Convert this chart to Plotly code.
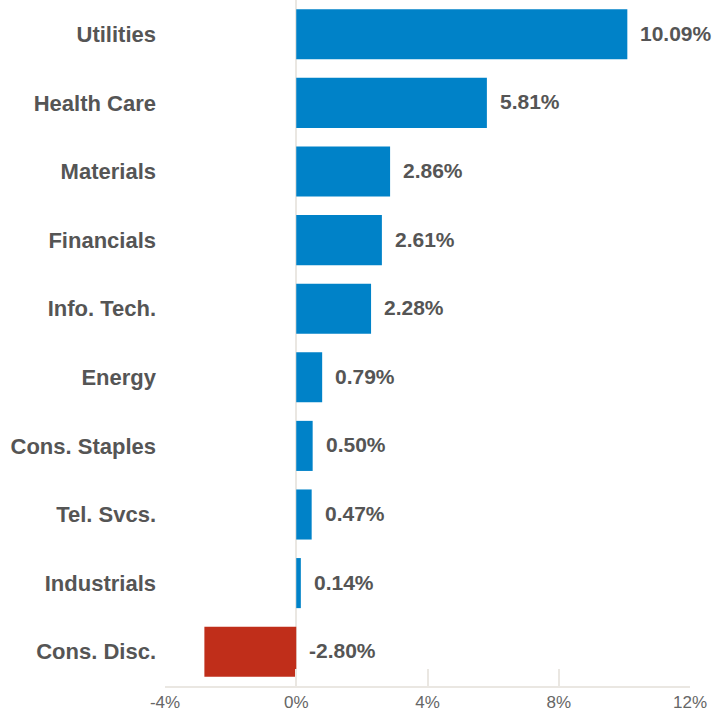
import plotly.graph_objects as go

categories = ["Utilities", "Health Care", "Materials", "Financials", "Info. Tech.",
              "Energy", "Cons. Staples", "Tel. Svcs.", "Industrials", "Cons. Disc."]
values = [10.09, 5.81, 2.86, 2.61, 2.28, 0.79, 0.50, 0.47, 0.14, -2.80]
tick_vals = [-4, 0, 4, 8, 12]
tick_text = ["-4%", "0%", "4%", "8%", "12%"]

BLUE = "#0082C8"
RED = "#C02E1A"
colors = [BLUE if v >= 0 else RED for v in values]

cats = categories[::-1]
vals = values[::-1]
cols = colors[::-1]

fig = go.Figure(go.Bar(
    x=vals, y=cats, orientation="h",
    marker=dict(color=cols, line=dict(width=0)),
    width=0.73, hoverinfo="skip",
))

for c, v in zip(cats, vals):
    fig.add_annotation(
        x=max(v, 0), y=c, text=f"{v:.2f}%", showarrow=False,
        xanchor="left", xshift=11, yshift=1,
        font=dict(family="Liberation Sans, Arial, sans-serif", size=21, color="#555555", weight="bold"),
    )

fig.update_layout(
    width=715, height=719,
    margin=dict(l=164.5, r=24.5, t=0, b=33),
    paper_bgcolor="white", plot_bgcolor="white",
    showlegend=False,
    bargap=0.27,
    xaxis=dict(
        range=[-4, 12], tickvals=tick_vals, ticktext=tick_text,
        showgrid=False, zeroline=True, zerolinecolor="#EAE7E2", zerolinewidth=2,
        showline=True, linecolor="#EAE7E2", linewidth=2,
        ticks="inside", ticklen=17, tickcolor="#EAE7E2", tickwidth=2,
        tickfont=dict(family="Liberation Sans, Arial, sans-serif", size=17, color="#666666"),
        fixedrange=True,
    ),
    yaxis=dict(
        showgrid=False, zeroline=False, showline=False, ticks="",
        tickfont=dict(family="Liberation Sans, Arial, sans-serif", size=22, color="#555555", weight="bold"),
        ticklabelstandoff=8,
        fixedrange=True,
    ),
)

fig.write_html("out.html")
